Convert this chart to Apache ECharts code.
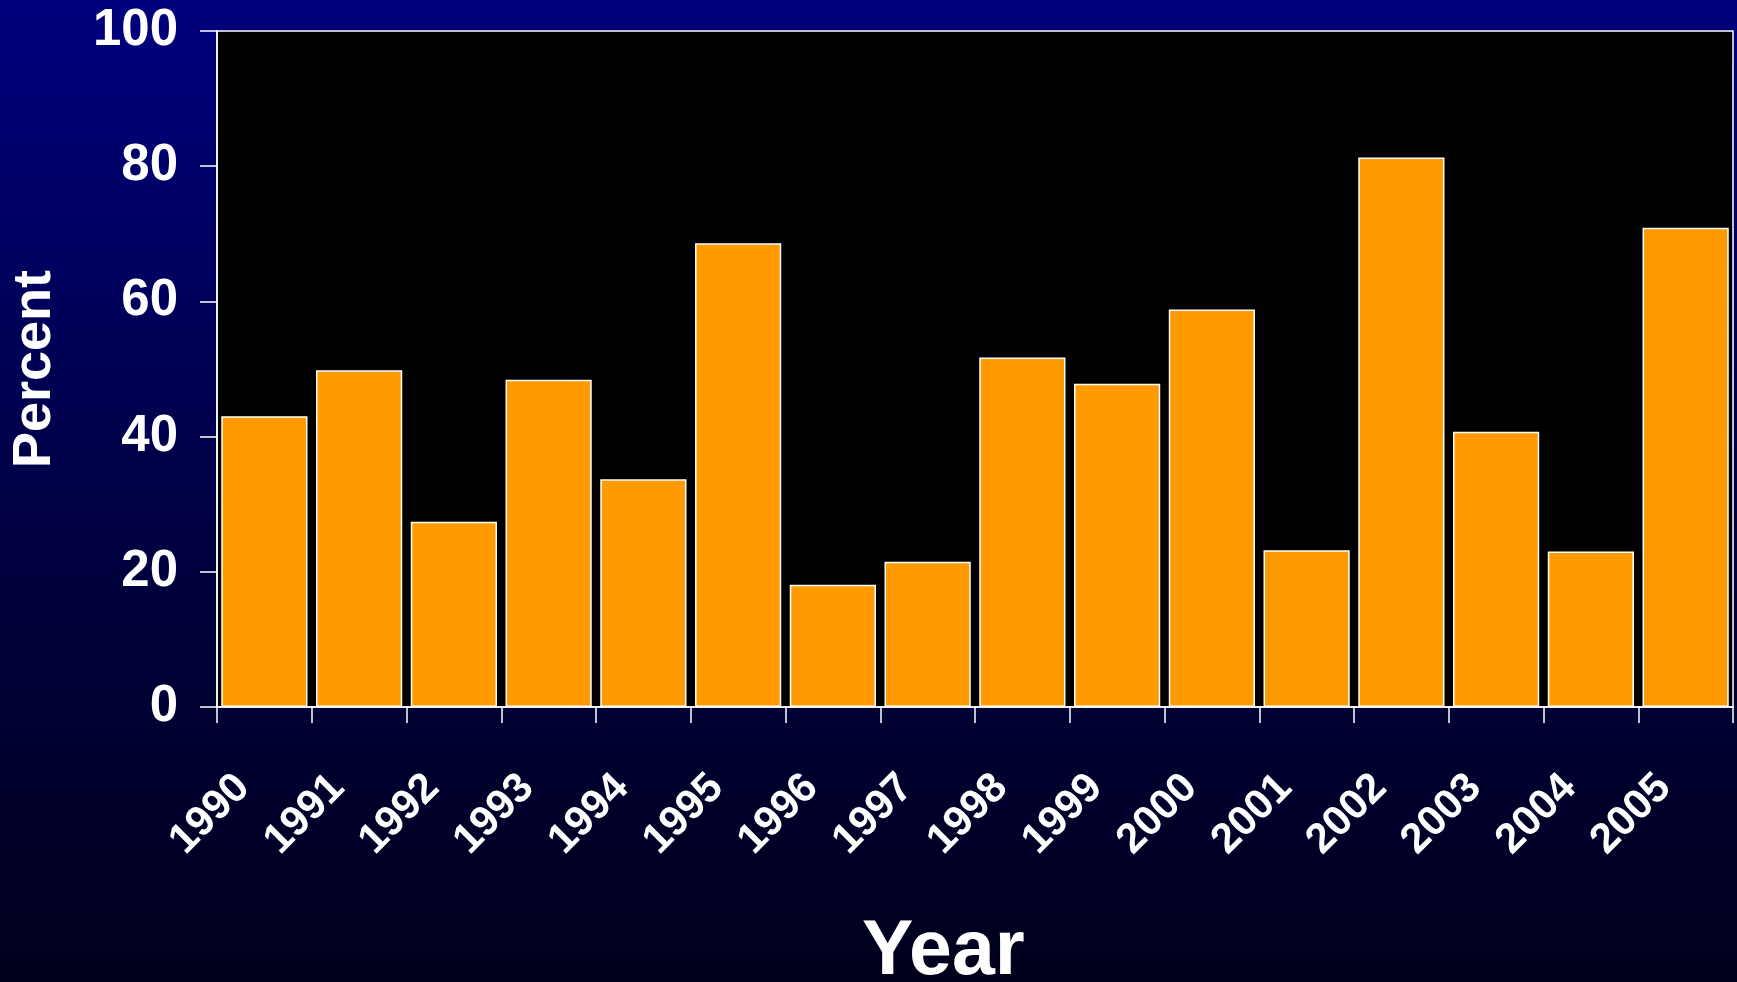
<!DOCTYPE html>
<html>
<head>
<meta charset="utf-8">
<title>Percent by Year</title>
<script src="https://cdn.jsdelivr.net/npm/echarts@6/dist/echarts.min.js"></script>
<style>
  html, body { margin: 0; padding: 0; width: 100%; height: 100%; background: #000030; }
  #chart { width: 1737px; height: 982px; }
</style>
</head>
<body>
<div id="chart"></div>
<script>
// Yearly share, in percent
const years = ['1990','1991','1992','1993','1994','1995','1996','1997',
               '1998','1999','2000','2001','2002','2003','2004','2005'];
const percents = [43.0, 49.8, 27.4, 48.4, 33.7, 68.6, 18.1, 21.5,
                  51.7, 47.8, 58.8, 23.2, 81.3, 40.7, 23.0, 70.9];
const yTicks = { min: 0, max: 100, step: 20 };

const chart = echarts.init(document.getElementById('chart'));

chart.setOption({
  backgroundColor: {
    type: 'linear', x: 0, y: 0, x2: 0, y2: 1,
    colorStops: [
      { offset: 0, color: '#00007e' },
      { offset: 0.55, color: '#000040' },
      { offset: 1, color: '#00001c' }
    ]
  },
  animation: false,
  grid: {
    left: 217, top: 31, right: 4, bottom: 275,
    outerBoundsMode: 'none',
    containLabel: false,
    show: true,
    backgroundColor: '#000000',
    borderColor: '#ffffff',
    borderWidth: 1.5
  },
  xAxis: {
    type: 'category',
    data: years,
    boundaryGap: true,
    axisLine: { lineStyle: { color: '#ffffff', width: 1.5 } },
    axisTick: { show: true, alignWithLabel: false, length: 16,
                lineStyle: { color: '#ffffff', width: 1.5 } },
    axisLabel: {
      rotate: 45,
      interval: 0,
      margin: 53,
      padding: [0, 30, 0, 0],
      color: '#ffffff',
      fontFamily: '"Liberation Sans", Arial, sans-serif',
      fontWeight: 'bold',
      fontSize: 42
    },
    splitLine: { show: false }
  },
  yAxis: {
    type: 'value',
    min: yTicks.min,
    max: yTicks.max,
    interval: yTicks.step,
    name: 'Percent',
    nameLocation: 'middle',
    nameGap: 155,
    nameRotate: 90,
    nameTextStyle: {
      color: '#ffffff',
      fontFamily: '"Liberation Sans", Arial, sans-serif',
      fontWeight: 'bold',
      fontSize: 54,
      textShadowColor: 'rgba(70,70,70,0.9)',
      textShadowOffsetX: 3,
      textShadowOffsetY: 3,
      textShadowBlur: 0
    },
    axisLine: { show: true, lineStyle: { color: '#ffffff', width: 1.5 } },
    axisTick: { show: true, length: 17, lineStyle: { color: '#ffffff', width: 1.5 } },
    axisLabel: {
      margin: 39,
      color: '#ffffff',
      fontFamily: '"Liberation Sans Narrow", "Liberation Sans", Arial, sans-serif',
      fontWeight: 'bold',
      fontSize: 51
    },
    splitLine: { show: false }
  },
  graphic: [{
    type: 'text',
    left: 862,
    top: 914,
    style: {
      text: 'Year',
      fill: '#ffffff',
      font: 'bold 77px "Liberation Sans", Arial, sans-serif',
      shadowColor: 'rgba(70,70,70,0.9)',
      shadowOffsetX: 3,
      shadowOffsetY: 3,
      shadowBlur: 0
    }
  }],
  series: [{
    type: 'bar',
    data: percents,
    barCategoryGap: '9%',
    itemStyle: {
      color: '#ff9b00',
      borderColor: '#ffffff',
      borderWidth: 1.5
    }
  }]
});
</script>
</body>
</html>
